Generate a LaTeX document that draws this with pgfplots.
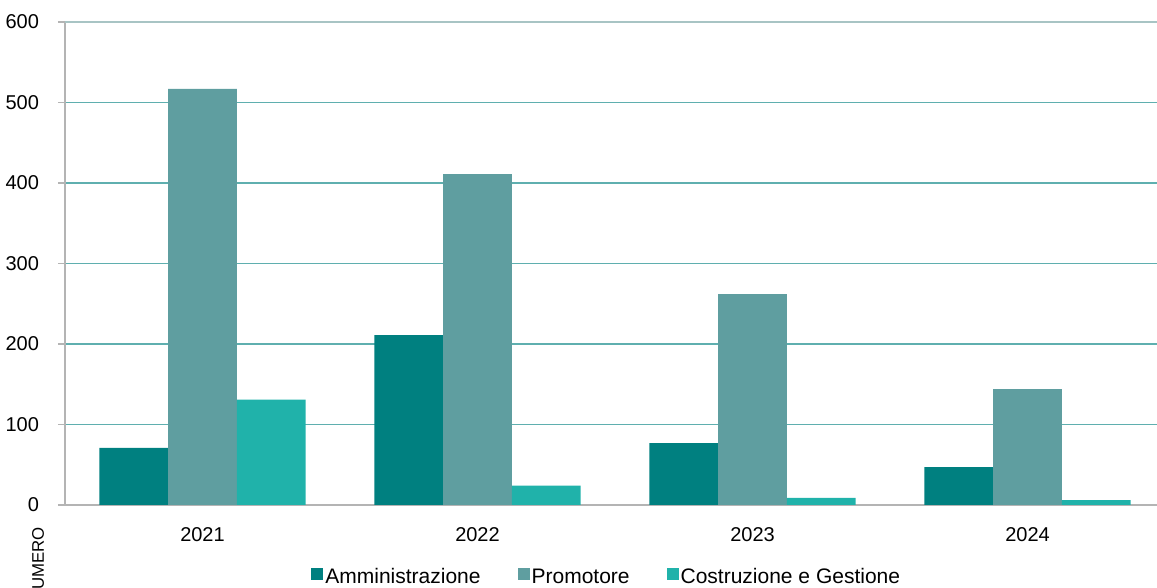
\documentclass[border=0pt]{standalone}
\usepackage{fontspec}
\setmainfont{Liberation Sans}
\usepackage{pgfplots}
\pgfplotsset{compat=1.18}

\definecolor{amm}{HTML}{008080}
\definecolor{prom}{HTML}{5F9EA0}
\definecolor{cost}{HTML}{20B2AA}
\definecolor{gridc}{HTML}{5FAFAF}
\definecolor{topgrid}{HTML}{A8C4C4}
\definecolor{axisc}{HTML}{B4B4B4}

\begin{document}
\begin{tikzpicture}
\begin{axis}[
    at={(0,0)}, anchor=south west,
    width=550pt, height=241.5pt, scale only axis,
    ymin=0, ymax=600, ytick={0,100,...,500},
    extra y ticks={600},
    extra y tick style={grid style={topgrid, line width=0.6pt}},
    xmin=-0.5, xmax=3.5,
    xtick={0,1,2,3}, xticklabels={2021,2022,2023,2024},
    extra x ticks={-0.5,0.5,1.5,2.5}, extra x tick labels={},
    extra x tick style={major tick length=5pt, tick style={draw=axisc, line width=0.6pt}, grid=none},
    x tick style={draw=none},
    y tick style={draw=axisc, line width=0.6pt},
    major tick length=3.5pt,
    tick align=outside,
    ybar=0pt, bar width=34.4pt,
    ymajorgrids, grid style={gridc, line width=0.6pt},
    axis x line*=bottom, axis y line*=left,
    x axis line style={draw=axisc, line width=0.9pt, -},
    y axis line style={draw=axisc, line width=0.6pt, -},
    ticklabel style={font=\fontsize{10}{12}\selectfont},
    /pgf/number format/assume math mode=true,
    yticklabel style={xshift=-6pt},
    xticklabel style={yshift=-4pt},
    legend columns=-1,
    legend style={draw=none, at={(0.4925,-0.147)}, anchor=center,
        font=\fontsize{10.5}{12}\selectfont,
        /tikz/every even column/.append style={column sep=17.5pt},
        nodes={inner xsep=1pt, text height=1.6ex, text depth=0.25ex}},
    legend image code/.code={\fill[#1] (0pt,-2.2pt) rectangle (6pt,3.8pt);},
]
\addplot[fill=amm, draw=none] coordinates {(0,71) (1,211) (2,77) (3,47)};
\addlegendentry{Amministrazione}
\addplot[fill=prom, draw=none] coordinates {(0,517) (1,411) (2,262) (3,144)};
\addlegendentry{Promotore}
\addplot[fill=cost, draw=none] coordinates {(0,131) (1,24) (2,9) (3,6)};
\addlegendentry{Costruzione e Gestione}
\end{axis}
\node[rotate=90, anchor=east, font=\fontsize{8.4}{10}\selectfont, inner sep=0pt] at (-13.5pt,-11pt) {NUMERO};
\pgfresetboundingbox
\path (-32.5pt,-41.5pt) rectangle (546pt,252.5pt);
\end{tikzpicture}
\end{document}
